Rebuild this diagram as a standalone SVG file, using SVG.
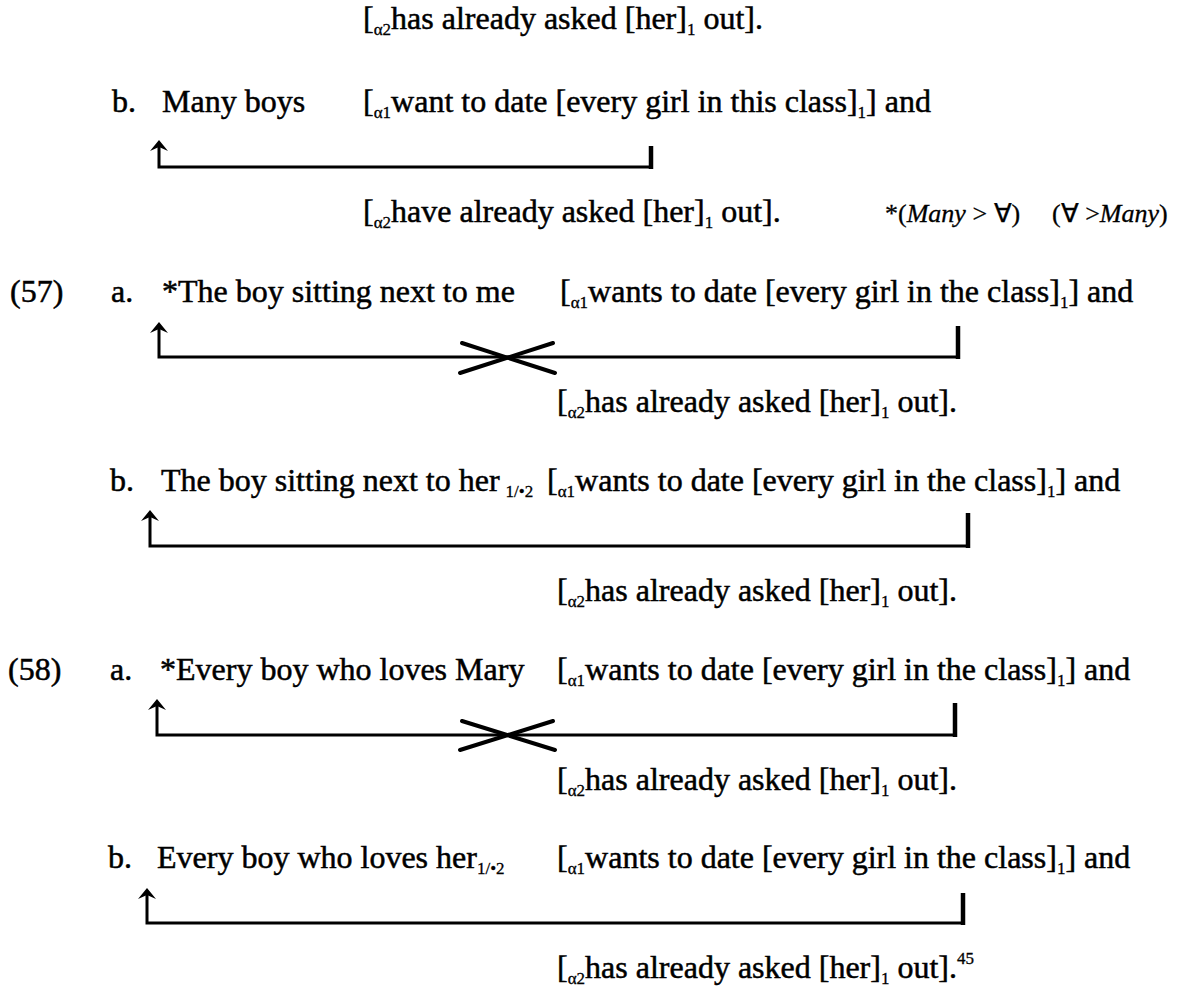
<svg xmlns="http://www.w3.org/2000/svg" xmlns:xlink="http://www.w3.org/1999/xlink" width="1183" height="986" viewBox="0 0 1183 986">
<style>
text{font-family:"Liberation Serif","Times New Roman",serif;font-size:32px;fill:#000;stroke:#000;stroke-width:0.5}
.sub{font-size:17px;stroke-width:0.3}
.it{font-style:italic}
.small{font-size:26px;stroke-width:0.3}
.conn{fill:none;stroke:#000;stroke-width:3}
.bar{fill:none;stroke:#000;stroke-width:4.5}
.cross{stroke:#000;stroke-width:4;stroke-linecap:round}
</style>
<defs>
<path id="ah" d="M0,0 L9,11 L0,7 L-9,11 Z" fill="#000"/>
</defs>
<rect width="1183" height="986" fill="#fff"/>

<g id="row1"><text x="363" y="29">[<tspan class="sub" dy="6">α2</tspan><tspan dy="-6">has already asked [her]</tspan><tspan class="sub" dy="6">1</tspan><tspan dy="-6"> out].</tspan></text></g>

<g id="ex56b">
<text x="112" y="112">b.</text>
<text x="162" y="112">Many boys</text>
<text x="363" y="112">[<tspan class="sub" dy="6">α1</tspan><tspan dy="-6">want to date [every girl in this class]</tspan><tspan class="sub" dy="6">1</tspan><tspan dy="-6">] and</tspan></text>
</g>
<g id="ex56b-2">
<text x="363" y="222">[<tspan class="sub" dy="6">α2</tspan><tspan dy="-6">have already asked [her]</tspan><tspan class="sub" dy="6">1</tspan><tspan dy="-6"> out].</tspan></text>
<text class="small" x="885" y="222">*(<tspan class="it">Many</tspan> &gt; ∀)</text>
<text class="small" x="1052" y="222">(∀ &gt;<tspan class="it">Many</tspan>)</text>
</g>

<g id="ex57a">
<text x="10" y="302">(57)</text>
<text x="111" y="302">a.</text>
<text x="162" y="302">*The boy sitting next to me</text>
<text x="560" y="302">[<tspan class="sub" dy="6">α1</tspan><tspan dy="-6">wants to date [every girl in the class]</tspan><tspan class="sub" dy="6">1</tspan><tspan dy="-6">] and</tspan></text>
</g>
<g id="ex57a-2"><text x="557" y="412">[<tspan class="sub" dy="6">α2</tspan><tspan dy="-6">has already asked [her]</tspan><tspan class="sub" dy="6">1</tspan><tspan dy="-6"> out].</tspan></text></g>

<g id="ex57b">
<text x="110" y="491">b.</text>
<text x="161" y="491">The boy sitting next to her<tspan class="sub" dx="6" dy="6">1/•2</tspan></text>
<text x="547" y="491">[<tspan class="sub" dy="6">α1</tspan><tspan dy="-6">wants to date [every girl in the class]</tspan><tspan class="sub" dy="6">1</tspan><tspan dy="-6">] and</tspan></text>
</g>
<g id="ex57b-2"><text x="557" y="601">[<tspan class="sub" dy="6">α2</tspan><tspan dy="-6">has already asked [her]</tspan><tspan class="sub" dy="6">1</tspan><tspan dy="-6"> out].</tspan></text></g>

<g id="ex58a">
<text x="8" y="680">(58)</text>
<text x="110" y="680">a.</text>
<text x="160" y="680">*Every boy who loves Mary</text>
<text x="557" y="680">[<tspan class="sub" dy="6">α1</tspan><tspan dy="-6">wants to date [every girl in the class]</tspan><tspan class="sub" dy="6">1</tspan><tspan dy="-6">] and</tspan></text>
</g>
<g id="ex58a-2"><text x="557" y="790">[<tspan class="sub" dy="6">α2</tspan><tspan dy="-6">has already asked [her]</tspan><tspan class="sub" dy="6">1</tspan><tspan dy="-6"> out].</tspan></text></g>

<g id="ex58b">
<text x="108" y="868">b.</text>
<text x="157" y="868">Every boy who loves her<tspan class="sub" dy="6">1/•2</tspan></text>
<text x="557" y="868">[<tspan class="sub" dy="6">α1</tspan><tspan dy="-6">wants to date [every girl in the class]</tspan><tspan class="sub" dy="6">1</tspan><tspan dy="-6">] and</tspan></text>
</g>
<g id="ex58b-2"><text x="557" y="978">[<tspan class="sub" dy="6">α2</tspan><tspan dy="-6">has already asked [her]</tspan><tspan class="sub" dy="6">1</tspan><tspan dy="-6"> out].</tspan><tspan class="sub" dy="-14">45</tspan></text></g>

<g id="connectors">
<path class="conn" d="M651,167 H159 V145"/>
<path class="bar" d="M651,146 V169"/>
<use xlink:href="#ah" x="159" y="140"/>

<path class="conn" d="M958,357 H159 V327"/>
<path class="bar" d="M958,326 V359"/>
<use xlink:href="#ah" x="159" y="322"/>
<line class="cross" x1="462" y1="343" x2="555" y2="373"/>
<line class="cross" x1="460" y1="373" x2="553" y2="343"/>

<path class="conn" d="M968,546 H150 V515"/>
<path class="bar" d="M968,513 V548"/>
<use xlink:href="#ah" x="150" y="510"/>

<path class="conn" d="M955,735 H157 V704"/>
<path class="bar" d="M955,703 V737"/>
<use xlink:href="#ah" x="157" y="699"/>
<line class="cross" x1="462" y1="721" x2="555" y2="750"/>
<line class="cross" x1="460" y1="750" x2="553" y2="721"/>

<path class="conn" d="M963,923 H147 V893"/>
<path class="bar" d="M963,893 V925"/>
<use xlink:href="#ah" x="147" y="888"/>
</g>
</svg>
